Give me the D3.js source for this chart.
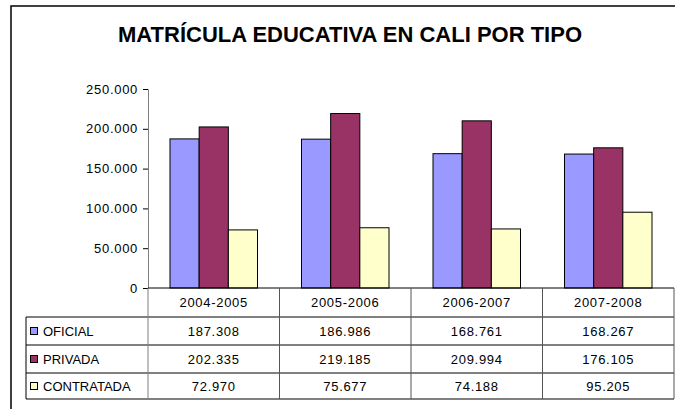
<!DOCTYPE html>
<html>
<head>
<meta charset="utf-8">
<script src="https://cdn.jsdelivr.net/npm/d3@7"></script>
<style>
  body { margin: 0; background: #fff; }
  text { font-family: Arial, "Liberation Sans", sans-serif; fill: #000; }
</style>
</head>
<body>
<div id="chart"></div>
<script>
// Data
var categories = ["2004-2005", "2005-2006", "2006-2007", "2007-2008"];
var seriesNames = ["OFICIAL", "PRIVADA", "CONTRATADA"];
var oficial = [187308, 186986, 168761, 168267];
var privada = [202335, 219185, 209994, 176105];
var contratada = [72970, 75677, 74188, 95205];
var yTicks = [0, 50000, 100000, 150000, 200000, 250000];
var colors = ["#9999FF", "#993366", "#FFFFCC"];

var series = [oficial, privada, contratada];

var W = 675, H = 409;
var plotLeft = 148, plotRight = 674, plotTop = 89, base = 288;
var rowY = [288, 317, 345, 373, 399];   // lineas de la tabla
var legendX = 26;

var loc = d3.formatLocale({ decimal: ",", thousands: ".", grouping: [3], currency: ["", ""] });
var fmt = loc.format(",d");

var svg = d3.select("#chart").append("svg")
    .attr("width", W)
    .attr("height", H);

// marco exterior (recortado a la derecha y abajo)
svg.append("rect")
    .attr("x", 11).attr("y", 6)
    .attr("width", 700).attr("height", 450)
    .attr("fill", "none").attr("stroke", "#000").attr("stroke-width", 1.5);

svg.append("text")
    .attr("x", 350).attr("y", 42)
    .attr("text-anchor", "middle")
    .style("font-size", "22px").style("font-weight", "bold")
    .text("MATRÍCULA EDUCATIVA EN CALI POR TIPO");

var x = d3.scaleBand().domain(categories).range([plotLeft, plotRight]).padding(0);
var xs = d3.scaleBand().domain(seriesNames)
    .range([22, x.bandwidth() - 22]).padding(0);
var y = d3.scaleLinear().domain([0, 250000]).range([base, plotTop]);

// eje y
var yAxis = svg.append("g")
    .attr("transform", "translate(" + plotLeft + ",0)")
    .call(d3.axisLeft(y).tickValues(yTicks).tickFormat(fmt).tickSize(5).tickPadding(5));
yAxis.select(".domain").attr("stroke", "#808080");
yAxis.selectAll(".tick line").attr("stroke", "#000");
yAxis.selectAll(".tick text")
    .style("font-size", "13px").style("letter-spacing", "0.7px")
    .attr("fill", "#000");

// barras
series.forEach(function(vals, si) {
    svg.append("g").selectAll("rect")
        .data(vals)
        .enter()
            .append("rect")
                .attr("x", function(d, i) { return x(categories[i]) + xs(seriesNames[si]); })
                .attr("y", function(d) { return y(d); })
                .attr("width", xs.bandwidth())
                .attr("height", function(d) { return base - y(d); })
                .attr("fill", colors[si])
                .attr("stroke", "#000")
                .attr("stroke-width", 1);
});

// tabla de datos
var grid = svg.append("g");
grid.append("line")
    .attr("x1", plotLeft).attr("x2", plotRight).attr("y1", rowY[0]).attr("y2", rowY[0])
    .attr("stroke", "#000");
rowY.slice(1).forEach(function(ry) {
    grid.append("line")
        .attr("x1", legendX).attr("x2", plotRight).attr("y1", ry).attr("y2", ry)
        .attr("stroke", "#000");
});
grid.append("line")
    .attr("x1", legendX).attr("x2", legendX).attr("y1", rowY[1]).attr("y2", rowY[4])
    .attr("stroke", "#000");
grid.append("line")
    .attr("x1", plotLeft).attr("x2", plotLeft).attr("y1", base).attr("y2", rowY[4])
    .attr("stroke", "#808080");
categories.forEach(function(c) {
    var xr = x(c) + x.bandwidth();
    grid.append("line")
        .attr("x1", xr).attr("x2", xr).attr("y1", rowY[0]).attr("y2", rowY[4])
        .attr("stroke", "#555");
});

svg.append("g").selectAll("text")
    .data(categories)
    .enter()
        .append("text")
            .attr("x", function(d) { return x(d) + x.bandwidth() / 2; })
            .attr("y", (rowY[0] + rowY[1]) / 2)
            .attr("dy", "0.35em")
            .attr("text-anchor", "middle")
            .style("font-size", "13px").style("letter-spacing", "0.7px")
            .text(function(d) { return d; });

series.forEach(function(vals, si) {
    var cy = (rowY[si + 1] + rowY[si + 2]) / 2;
    svg.append("g").selectAll("text")
        .data(vals)
        .enter()
            .append("text")
                .attr("x", function(d, i) { return x(categories[i]) + x.bandwidth() / 2; })
                .attr("y", cy)
                .attr("dy", "0.35em")
                .attr("text-anchor", "middle")
                .style("font-size", "13px").style("letter-spacing", "0.7px")
                .text(function(d) { return fmt(d); });

    // leyenda
    svg.append("rect")
        .attr("x", 30.5).attr("y", cy - 3.5)
        .attr("width", 7).attr("height", 7)
        .attr("fill", colors[si]).attr("stroke", "#000");
    svg.append("text")
        .attr("x", 43).attr("y", cy)
        .attr("dy", "0.35em")
        .style("font-size", "13px")
        .text(seriesNames[si]);
});
</script>
</body>
</html>
